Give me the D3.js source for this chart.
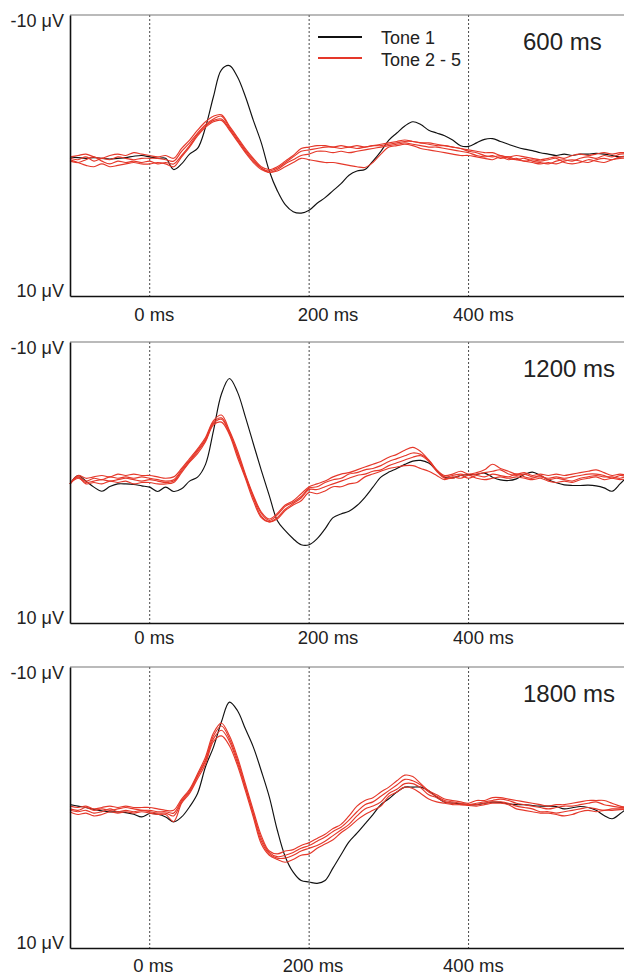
<!DOCTYPE html>
<html>
<head>
<meta charset="utf-8">
<script src="https://cdn.jsdelivr.net/npm/d3@7/dist/d3.min.js"></script>
<style>
  body { margin: 0; background: #fff; }
  text { font-family: "Liberation Sans", Arial, sans-serif; fill: #222; }
</style>
</head>
<body>
<svg id="chart" width="624" height="975"></svg>
<script>

// sample times (ms), one value every 10 ms
var times = [
  -100, -90, -80, -70, -60, -50, -40, -30, -20, -10,
  0, 10, 20, 30, 40, 50, 60, 70, 80, 90,
  100, 110, 120, 130, 140, 150, 160, 170, 180, 190,
  200, 210, 220, 230, 240, 250, 260, 270, 280, 290,
  300, 310, 320, 330, 340, 350, 360, 370, 380, 390,
  400, 410, 420, 430, 440, 450, 460, 470, 480, 490,
  500, 510, 520, 530, 540, 550, 560, 570, 580, 590,
  600
];

// ---- 600 ms (µV, negative up) ----
var tone1_600 = [
  0.1, 0.15, 0.2, 0.15, 0.2, 0.25, 0.2, 0.15, 0.05, 0.0,
  0.1, 0.2, 0.2, 1.0, 0.6, -0.1, -0.5, -2.0, -4.2, -6.1,
  -6.4, -5.6, -4.2, -2.5, -0.9, 1.1, 2.5, 3.5, 4.0, 4.1,
  3.9, 3.4, 3.0, 2.5, 2.0, 1.4, 1.1, 1.0, 0.4, -0.3,
  -1.1, -1.6, -2.1, -2.4, -2.2, -1.8, -1.6, -1.4, -1.1, -0.7,
  -0.65, -0.9, -1.15, -1.2, -1.0, -0.8, -0.6, -0.45, -0.35, -0.2,
  -0.1, 0.0, -0.1, 0.0, -0.1, -0.1, -0.15, -0.1, 0.0, 0.1,
  0.0
];
var tone2_600 = [
  0.1, 0.0, -0.1, 0.1, 0.2, 0.0, -0.1, 0.0, -0.2, -0.1,
  0.0, 0.1, 0.0, 0.2, -0.5, -1.1, -1.8, -2.4, -2.8, -2.9,
  -2.1, -1.3, -0.5, 0.2, 0.8, 1.0, 0.8, 0.4, 0.0, -0.5,
  -0.6, -0.7, -0.7, -0.6, -0.7, -0.6, -0.7, -0.6, -0.7, -0.8,
  -0.9, -1.0, -1.1, -1.0, -0.9, -0.9, -0.8, -0.7, -0.6, -0.5,
  -0.4, -0.3, -0.2, -0.2, 0.0, 0.1, 0.0, 0.1, 0.2, 0.3,
  0.2, 0.1, 0.2, 0.0, -0.1, 0.0, -0.1, -0.2, -0.1, -0.2,
  -0.2
];
var tone3_600 = [
  0.2, 0.3, 0.1, 0.4, 0.2, 0.3, 0.1, 0.2, 0.3, 0.2,
  0.2, 0.2, 0.3, 0.4, -0.3, -0.9, -1.6, -2.2, -2.6, -2.8,
  -2.0, -1.2, -0.4, 0.3, 0.9, 1.1, 0.9, 0.5, 0.1, -0.3,
  -0.4, -0.5, -0.6, -0.6, -0.5, -0.6, -0.5, -0.6, -0.7, -0.7,
  -0.8, -0.9, -1.0, -1.0, -0.9, -0.8, -0.7, -0.7, -0.6, -0.5,
  -0.3, -0.2, 0.0, 0.1, 0.0, 0.2, 0.3, 0.2, 0.4, 0.5,
  0.6, 0.4, 0.3, 0.4, 0.2, 0.1, 0.2, 0.0, 0.1, -0.1,
  -0.1
];
var tone4_600 = [
  0.4, 0.5, 0.3, 0.1, 0.4, 0.6, 0.4, 0.5, 0.4, 0.5,
  0.4, 0.6, 0.5, 0.6, 0.0, -0.7, -1.5, -2.1, -2.5, -2.6,
  -1.9, -1.1, -0.3, 0.4, 0.9, 1.2, 1.0, 0.6, 0.3, 0.0,
  -0.1, -0.3, -0.3, -0.2, -0.3, -0.2, -0.3, -0.4, -0.5, -0.6,
  -0.7, -0.8, -0.9, -0.8, -0.7, -0.6, -0.6, -0.5, -0.4, -0.3,
  -0.2, 0.0, 0.1, 0.0, 0.2, 0.1, 0.3, 0.4, 0.5, 0.6,
  0.5, 0.6, 0.4, 0.3, 0.4, 0.5, 0.3, 0.2, 0.3, 0.1,
  0.1
];
var tone5_600 = [
  0.3, 0.5, 0.7, 0.8, 0.6, 0.8, 0.7, 0.6, 0.5, 0.6,
  0.6, 0.5, 0.6, 0.8, 0.1, -0.6, -1.4, -2.0, -2.4, -2.5,
  -1.8, -1.0, -0.2, 0.5, 1.0, 1.2, 1.1, 0.8, 0.5, 0.2,
  0.3, 0.4, 0.5, 0.5, 0.6, 0.7, 0.8, 0.85, 0.5, -0.1,
  -0.6, -0.7, -0.8, -0.7, -0.5, -0.4, -0.3, -0.2, -0.1, 0.0,
  0.0, 0.1, 0.2, 0.3, 0.1, 0.3, 0.2, 0.4, 0.3, 0.4,
  0.3, 0.2, 0.5, 0.6, 0.5, 0.3, 0.4, 0.5, 0.3, 0.2,
  0.2
];

// ---- 1200 ms ----
var tone1_1200 = [
  0.1, -0.5, -0.1, 0.33, 0.62, 0.29, 0.1, 0.1, 0.14, 0.24,
  0.33, 0.64, 0.33, 0.64, 0.45, -0.1, -0.38, -1.29, -3.7, -6.3,
  -7.4, -6.45, -4.67, -2.76, -0.86, 0.93, 2.7, 3.43, 4.0, 4.43,
  4.43, 4.0, 3.3, 2.5, 2.24, 2.05, 1.64, 1.05, 0.33, -0.38,
  -0.74, -1.0, -1.29, -1.52, -1.57, -1.38, -0.86, -0.38, -0.33, -0.5,
  -0.57, -0.57, -0.67, -0.38, -0.19, -0.14, -0.26, -0.57, -0.74, -0.5,
  -0.19, 0.02, 0.17, 0.21, 0.21, 0.19, 0.24, 0.38, 0.62, 0.1,
  -0.5
];
var tone2_1200 = [
  0.1, -0.5, -0.3, -0.4, -0.5, -0.4, -0.6, -0.5, -0.6, -0.5,
  -0.5, -0.4, -0.3, -0.4, -1.0, -1.7, -2.4, -3.2, -4.4, -4.8,
  -3.7, -2.3, -0.6, 0.9, 2.1, 2.6, 2.2, 1.6, 1.3, 0.8,
  0.3, 0.1, -0.1, -0.4, -0.6, -0.7, -0.9, -1.1, -1.3, -1.5,
  -1.8, -2.0, -2.3, -2.5, -2.2, -1.6, -0.9, -0.5, -0.6, -0.8,
  -0.6, -0.7, -0.9, -1.3, -1.0, -0.8, -0.6, -0.7, -0.5, -0.6,
  -0.5, -0.6, -0.5, -0.6, -0.7, -0.8, -0.9, -0.7, -0.5, -0.6,
  -0.5
];
var tone3_1200 = [
  0.1, -0.4, -0.1, -0.3, -0.2, -0.4, -0.3, -0.4, -0.3, -0.4,
  -0.3, -0.2, -0.1, -0.2, -0.9, -1.6, -2.3, -3.1, -4.3, -4.6,
  -3.6, -2.1, -0.5, 1.0, 2.2, 2.7, 2.3, 1.7, 1.4, 1.0,
  0.4, 0.3, 0.0, -0.2, -0.3, -0.6, -0.7, -0.9, -1.0, -1.2,
  -1.5, -1.7, -1.9, -2.1, -2.0, -1.6, -0.9, -0.4, -0.5, -0.6,
  -0.5, -0.6, -0.7, -0.8, -0.9, -0.6, -0.5, -0.6, -0.4, -0.4,
  -0.3, -0.4, -0.3, -0.4, -0.5, -0.6, -0.6, -0.5, -0.3, -0.5,
  -0.4
];
var tone4_1200 = [
  0.1, -0.3, 0.0, -0.1, -0.2, -0.1, -0.2, -0.3, -0.2, -0.1,
  -0.2, -0.1, 0.0, -0.1, -0.8, -1.5, -2.2, -3.0, -4.2, -4.5,
  -3.5, -2.0, -0.4, 1.1, 2.4, 2.8, 2.5, 1.9, 1.5, 1.1,
  0.5, 0.5, 0.3, 0.1, -0.1, -0.3, -0.5, -0.6, -0.8, -0.9,
  -1.2, -1.4, -1.6, -1.8, -1.9, -1.5, -0.8, -0.3, -0.3, -0.5,
  -0.3, -0.5, -0.4, -0.6, -0.5, -0.4, -0.6, -0.4, -0.3, -0.5,
  -0.2, -0.3, -0.2, -0.1, -0.3, -0.4, -0.5, -0.4, -0.4, -0.3,
  -0.5
];
var tone5_1200 = [
  0.1, -0.4, 0.1, 0.0, 0.1, -0.1, 0.0, -0.1, 0.1, 0.0,
  0.0, 0.1, 0.1, 0.0, -0.7, -1.45, -2.05, -2.9, -4.1, -4.3,
  -3.4, -1.8, -0.3, 1.3, 2.5, 2.8, 2.6, 2.0, 1.6, 1.3,
  0.7, 0.8, 0.6, 0.3, 0.3, 0.1, 0.0, -0.4, -0.6, -0.8,
  -1.0, -1.1, -1.2, -1.2, -1.0, -0.8, -0.5, -0.2, -0.4, -0.3,
  -0.5, -0.3, -0.2, -0.3, -0.4, -0.3, -0.4, -0.3, -0.2, -0.3,
  -0.1, 0.0, -0.1, 0.0, -0.2, -0.3, -0.4, -0.2, -0.3, -0.2,
  -0.3
];

// ---- 1800 ms ----
var tone1_1800 = [
  -0.2, -0.1, 0.0, 0.14, 0.24, 0.31, 0.31, 0.36, 0.48, 0.67,
  0.43, 0.48, 0.67, 1.02, 0.67, -0.05, -1.0, -2.9, -4.3, -6.1,
  -7.5, -6.9, -5.6, -4.3, -2.6, -0.76, 1.6, 3.5, 4.6, 5.2,
  5.3, 5.4, 5.2, 4.3, 3.36, 2.45, 1.83, 1.17, 0.5, -0.2,
  -0.62, -1.1, -1.45, -1.45, -1.45, -1.2, -0.74, -0.38, -0.31, -0.26,
  -0.2, -0.2, -0.3, -0.38, -0.36, -0.26, -0.2, -0.2, -0.14, -0.1,
  -0.1, -0.07, 0.1, 0.02, -0.07, 0.0, 0.2, 0.57, 0.8, 0.45,
  0.0
];
var tone2_1800 = [
  -0.1, 0.0, -0.1, 0.1, 0.0, -0.1, 0.0, -0.1, 0.0, 0.0,
  0.0, 0.1, 0.2, 0.2, -0.6, -1.3, -2.4, -3.6, -5.3, -6.0,
  -5.1, -3.6, -1.7, 0.2, 2.0, 3.1, 3.3, 3.1, 3.0, 2.7,
  2.5, 2.2, 1.9, 1.5, 1.2, 0.6, -0.1, -0.5, -0.7, -1.1,
  -1.45, -1.9, -2.3, -2.2, -1.7, -1.2, -0.9, -0.6, -0.5, -0.4,
  -0.3, -0.5, -0.5, -0.7, -0.7, -0.6, -0.5, -0.4, -0.3, -0.2,
  -0.1, -0.2, -0.2, -0.3, -0.4, -0.5, -0.5, -0.5, -0.3, -0.1,
  0.0
];
var tone3_1800 = [
  0.1, 0.2, 0.0, 0.2, 0.1, 0.2, 0.1, 0.0, 0.1, 0.2,
  0.2, 0.3, 0.3, 0.4, -0.5, -1.2, -2.3, -3.4, -5.1, -5.8,
  -4.9, -3.4, -1.5, 0.4, 2.2, 3.2, 3.5, 3.4, 3.2, 2.9,
  2.7, 2.4, 2.1, 1.7, 1.4, 0.9, 0.3, -0.2, -0.4, -0.8,
  -1.2, -1.6, -2.0, -1.9, -1.6, -1.1, -0.8, -0.5, -0.4, -0.3,
  -0.2, -0.3, -0.4, -0.5, -0.6, -0.5, -0.3, -0.2, -0.1, 0.0,
  0.1, 0.0, -0.1, -0.1, -0.2, -0.3, -0.4, -0.2, -0.1, 0.0,
  0.0
];
var tone4_1800 = [
  0.2, 0.3, 0.2, 0.4, 0.3, 0.1, 0.3, 0.2, 0.3, 0.2,
  0.3, 0.4, 0.4, 0.6, -0.4, -1.1, -2.2, -3.3, -4.9, -5.5,
  -4.7, -3.2, -1.4, 0.5, 2.4, 3.3, 3.6, 3.6, 3.4, 3.1,
  2.9, 2.7, 2.4, 2.0, 1.6, 1.2, 0.6, 0.1, -0.1, -0.4,
  -1.0, -1.3, -1.7, -1.7, -1.4, -0.9, -0.7, -0.4, -0.3, -0.2,
  -0.2, -0.2, -0.3, -0.4, -0.4, -0.3, -0.1, 0.0, 0.1, 0.3,
  0.3, 0.4, 0.3, 0.2, 0.1, 0.0, 0.1, 0.2, 0.1, 0.1,
  0.1
];
var tone5_1800 = [
  0.3, 0.5, 0.4, 0.6, 0.5, 0.3, 0.4, 0.3, 0.4, 0.3,
  0.4, 0.5, 0.5, 1.0, -0.3, -1.0, -2.05, -3.1, -4.7, -5.1,
  -4.4, -3.0, -1.2, 0.7, 2.6, 3.4, 3.7, 3.9, 3.7, 3.4,
  3.3, 2.9, 2.6, 2.3, 1.8, 1.4, 0.9, 0.5, 0.2, -0.1,
  -0.8, -1.1, -1.45, -1.35, -1.0, -0.6, -0.4, -0.3, -0.2, -0.2,
  -0.15, -0.1, -0.2, -0.3, -0.3, -0.2, 0.1, 0.2, 0.3, 0.4,
  0.4, 0.5, 0.6, 0.5, 0.3, 0.2, 0.3, 0.2, 0.2, 0.15,
  0.1
];

var panelLabels = ["600 ms", "1200 ms", "1800 ms"];
var xTicks = [0, 200, 400];
var yTicks = [-10, 10];
var legendLabels = ["Tone 1", "Tone 2 - 5"];

var panels = [
  { label: panelLabels[0], black: tone1_600, red: [tone2_600, tone3_600, tone4_600, tone5_600] },
  { label: panelLabels[1], black: tone1_1200, red: [tone2_1200, tone3_1200, tone4_1200, tone5_1200] },
  { label: panelLabels[2], black: tone1_1800, red: [tone2_1800, tone3_1800, tone4_1800, tone5_1800] }
];

// layout
var panelTops = [15, 342, 667];
var panelHeight = 281;
var tickLabelDy = [25, 21, 24];
var tickLabelDx = [[-16, -12, -16], [-16, -12, -16], [-17, -27, -26]];
var red = "#e5382a";

var svg = d3.select("#chart");

var x = d3.scaleLinear().domain([-100, 600]).range([70, 628]);

panels.forEach(function (p, k) {

    var top = panelTops[k];
    var bottom = top + panelHeight;
    var y = d3.scaleLinear().domain([-10, 10]).range([top, bottom]);

    var g = svg.append("g").attr("class", "panel");

    // dashed time markers
    g.selectAll("line.marker")
        .data(xTicks)
        .enter().append("line")
        .attr("class", "marker")
        .attr("x1", function (d) { return x(d); })
        .attr("x2", function (d) { return x(d); })
        .attr("y1", top)
        .attr("y2", bottom)
        .attr("stroke", "#333")
        .attr("stroke-width", 0.9)
        .attr("stroke-dasharray", "2,2");

    var line = d3.line()
        .x(function (d, i) { return x(times[i]); })
        .y(function (d) { return y(d); })
        .curve(d3.curveCatmullRom.alpha(0.5));

    g.append("path")
        .datum(p.black)
        .attr("d", line)
        .attr("fill", "none")
        .attr("stroke", "#111")
        .attr("stroke-width", 1.15);

    g.selectAll("path.red")
        .data(p.red)
        .enter().append("path")
        .attr("class", "red")
        .attr("d", line)
        .attr("fill", "none")
        .attr("stroke", red)
        .attr("stroke-width", 1.15);

    // frame: grey top, black left and bottom
    g.append("line")
        .attr("x1", x(-100)).attr("x2", 624)
        .attr("y1", top).attr("y2", top)
        .attr("stroke", "#777")
        .attr("stroke-width", 1.2);

    var yAxis = g.append("g")
        .attr("transform", "translate(" + x(-100) + ",0)")
        .call(d3.axisLeft(y).tickValues(yTicks).tickSize(0).tickPadding(6)
            .tickFormat(function (d) { return d + " \u03bcV"; }));
    yAxis.select(".domain").attr("stroke", "#111").attr("stroke-width", 1.6);
    yAxis.selectAll("text")
        .attr("font-size", "18px")
        .attr("font-family", null)
        .attr("dy", function (d) { return d < 0 ? "0.65em" : "0.05em"; });

    var xAxis = g.append("g")
        .attr("transform", "translate(0," + bottom + ")")
        .call(d3.axisBottom(x).tickValues(xTicks).tickSize(0).tickSizeOuter(0)
            .tickFormat(function (d) { return d + " ms"; }));
    xAxis.select(".domain").attr("stroke", "#111").attr("stroke-width", 1.6);
    xAxis.selectAll("text")
        .attr("font-size", "18.5px")
        .attr("font-family", null)
        .attr("text-anchor", "start")
        .attr("x", function (d, i) { return tickLabelDx[k][i]; })
        .attr("y", tickLabelDy[k])
        .attr("dy", null);

    g.append("text")
        .attr("x", 523)
        .attr("y", top + 35)
        .attr("font-size", "24px")
        .text(p.label);
});

// legend, top panel only
var legend = svg.append("g").attr("class", "legend");
legend.selectAll("line")
    .data(legendLabels)
    .enter().append("line")
    .attr("x1", 318).attr("x2", 362)
    .attr("y1", function (d, i) { return 37 + i * 21; })
    .attr("y2", function (d, i) { return 37 + i * 21; })
    .attr("stroke", function (d, i) { return i === 0 ? "#111" : red; })
    .attr("stroke-width", 2);
legend.selectAll("text")
    .data(legendLabels)
    .enter().append("text")
    .attr("x", 381)
    .attr("y", function (d, i) { return 44 + i * 22; })
    .attr("font-size", "18px")
    .text(function (d) { return d; });

</script>
</body>
</html>
